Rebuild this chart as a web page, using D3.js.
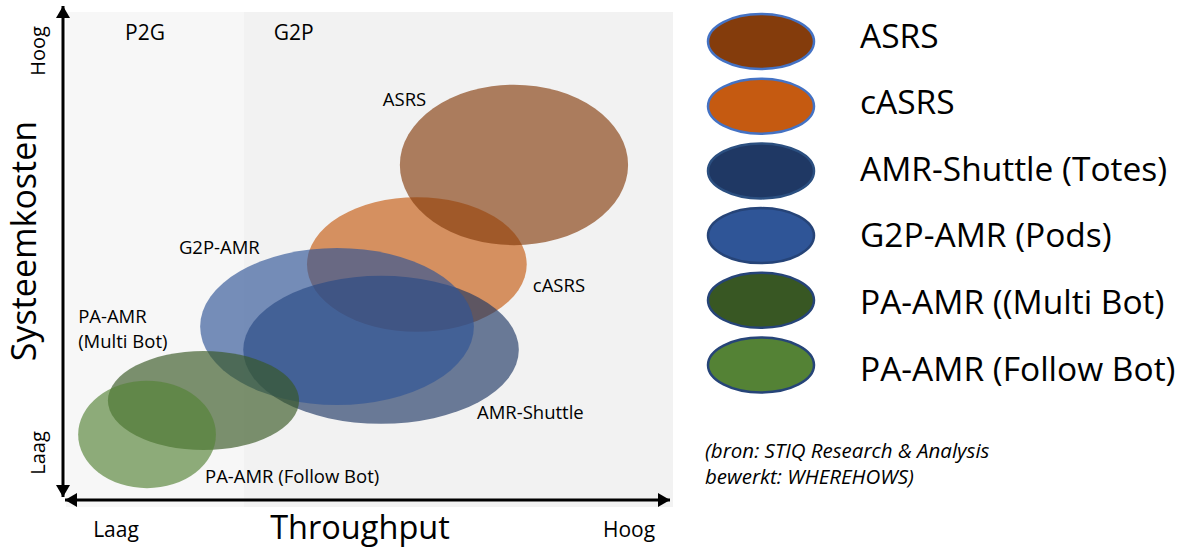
<!DOCTYPE html>
<html>
<head>
<meta charset="utf-8">
<script src="https://cdn.jsdelivr.net/npm/d3@7"></script>
<style>
  html, body { margin: 0; padding: 0; background: #ffffff; }
  svg { display: block; font-family: "Open Sans", "Noto Sans", sans-serif; }
</style>
</head>
<body>
<svg id="chart" width="1192" height="550"></svg>
<script>
// Systems, in legend order
const systems = ["ASRS", "cASRS", "AMR-Shuttle (Totes)", "G2P-AMR (Pods)", "PA-AMR ((Multi Bot)", "PA-AMR (Follow Bot)"];
// Throughput range per system (0 = laag, 100 = hoog)
const throughputLow  = [55.0, 39.7, 29.2, 22.1,  6.9,  2.0];
const throughputHigh = [92.6, 75.9, 74.6, 67.2, 38.4, 24.7];
// System cost range per system (0 = laag, 100 = hoog)
const costLow  = [52.9, 35.4, 16.8, 20.6, 11.5,  3.8];
const costHigh = [85.3, 62.6, 46.7, 52.3, 31.5, 25.5];
// Painting order of the bubbles (later = on top)
const drawOrder = [1, 0, 2, 3, 4, 5];

// Annotations inside the plot
const annotationText = [["ASRS"], ["cASRS"], ["AMR-Shuttle"], ["G2P-AMR"], ["PA-AMR", "(Multi Bot)"], ["PA-AMR (Follow Bot)"]];
const annotationThroughput = [52.2, 76.9, 67.7, 18.6, 2.0, 22.9];
const annotationCost = [81.0, 43.4, 17.8, 51.1, 37.2, 4.8];

// Process zones along the throughput axis
const zoneNames = ["P2G", "G2P"];
const zoneStart = [0, 29.3];
const zoneEnd = [29.3, 100];

const axisEnds = ["Laag", "Hoog"];
const sourceLines = ["(bron: STIQ Research & Analysis", "bewerkt: WHEREHOWS)"];

const fillColors = ["#843C0C", "#C55A11", "#1F3864", "#2F5597", "#385723", "#548235"];
const legendStroke = ["#4472C4", "#4472C4", "#2B4F80", "#264478", "#264478", "#264478"];
const zoneColors = ["#f7f7f7", "#f2f2f2"];

const svg = d3.select("#chart");

const x = d3.scaleLinear().domain([0, 100]).range([66, 673]);
const y = d3.scaleLinear().domain([0, 100]).range([507, 12]);
const color = d3.scaleOrdinal().domain(systems).range(fillColors);

// zone panels
svg.append("g").selectAll("rect")
  .data(zoneNames)
  .join("rect")
  .attr("x", (d, i) => x(zoneStart[i]))
  .attr("width", (d, i) => x(zoneEnd[i]) - x(zoneStart[i]))
  .attr("y", y(100))
  .attr("height", y(0) - y(100))
  .attr("fill", (d, i) => zoneColors[i]);

svg.append("g").selectAll("text")
  .data(zoneNames)
  .join("text")
  .attr("x", (d, i) => x(zoneStart[i]) + (i === 0 ? 59 : 30))
  .attr("y", y(94.3))
  .attr("font-size", 21)
  .attr("fill", "#000")
  .text(d => d);

// bubbles
const bubbles = systems.map((name, i) => ({
  name,
  cx: x((throughputLow[i] + throughputHigh[i]) / 2),
  cy: y((costLow[i] + costHigh[i]) / 2),
  rx: (x(throughputHigh[i]) - x(throughputLow[i])) / 2,
  ry: (y(costLow[i]) - y(costHigh[i])) / 2
}));

svg.append("g").selectAll("ellipse")
  .data(drawOrder.map(i => bubbles[i]))
  .join("ellipse")
  .attr("cx", d => d.cx)
  .attr("cy", d => d.cy)
  .attr("rx", d => d.rx)
  .attr("ry", d => d.ry)
  .attr("fill", d => color(d.name))
  .attr("fill-opacity", 0.65);

// annotations
const ann = svg.append("g").selectAll("text")
  .data(annotationText)
  .join("text")
  .attr("x", (d, i) => x(annotationThroughput[i]))
  .attr("y", (d, i) => y(annotationCost[i]))
  .attr("font-size", 18.5)
  .attr("fill", "#000");
ann.selectAll("tspan")
  .data(d => d)
  .join("tspan")
  .attr("x", function () { return d3.select(this.parentNode).attr("x"); })
  .attr("dy", (d, j) => j === 0 ? 0 : 25)
  .text(d => d);

// axes with arrowheads on both ends
const defs = svg.append("defs");
defs.append("marker")
  .attr("id", "arrow")
  .attr("viewBox", "0 0 12 14")
  .attr("refX", 12).attr("refY", 7)
  .attr("markerWidth", 12).attr("markerHeight", 14)
  .attr("markerUnits", "userSpaceOnUse")
  .attr("orient", "auto-start-reverse")
  .append("path")
  .attr("d", "M0,0 L12,7 L0,14 Z")
  .attr("fill", "#000");

const axisX0 = x(0) - 3;
const axisY0 = y(0) - 7;
svg.append("line")
  .attr("x1", axisX0).attr("y1", y(100) - 6)
  .attr("x2", axisX0).attr("y2", y(0) - 10)
  .attr("stroke", "#000").attr("stroke-width", 3)
  .attr("marker-start", "url(#arrow)").attr("marker-end", "url(#arrow)");
svg.append("line")
  .attr("x1", x(0) - 1).attr("y1", axisY0)
  .attr("x2", x(100) - 3).attr("y2", axisY0)
  .attr("stroke", "#000").attr("stroke-width", 3)
  .attr("marker-start", "url(#arrow)").attr("marker-end", "url(#arrow)");

// axis titles
svg.append("text")
  .attr("x", 360).attr("y", 539)
  .attr("text-anchor", "middle")
  .attr("font-size", 32.5)
  .text("Throughput");
svg.append("text")
  .attr("transform", "translate(36,241) rotate(-90)")
  .attr("text-anchor", "middle")
  .attr("font-size", 34)
  .text("Systeemkosten");

// low/high ends
svg.append("g").selectAll("text")
  .data(axisEnds)
  .join("text")
  .attr("x", (d, i) => i === 0 ? 116 : 629)
  .attr("y", 537)
  .attr("text-anchor", "middle")
  .attr("font-size", 21)
  .text(d => d);
svg.append("g").selectAll("text")
  .data(axisEnds)
  .join("text")
  .attr("transform", (d, i) => `translate(45,${i === 0 ? 453 : 51}) rotate(-90)`)
  .attr("text-anchor", "middle")
  .attr("font-size", 20)
  .text(d => d);

// legend: swatches and labels sit on slightly different row pitches
const swatchY = d3.scaleLinear().domain([0, systems.length - 1]).range([41.5, 365]);
const labelY = d3.scaleLinear().domain([0, systems.length - 1]).range([47.5, 380.5]);
const legend = svg.append("g");
legend.selectAll("ellipse")
  .data(systems)
  .join("ellipse")
  .attr("cx", 761)
  .attr("cy", (d, i) => swatchY(i))
  .attr("rx", 53).attr("ry", 27.5)
  .attr("fill", d => color(d))
  .attr("stroke", (d, i) => legendStroke[i])
  .attr("stroke-width", 2.5);
legend.selectAll("text")
  .data(systems)
  .join("text")
  .attr("x", 860)
  .attr("y", (d, i) => labelY(i))
  .attr("font-size", 33.5)
  .text(d => d);

// source note
svg.append("g").selectAll("text")
  .data(sourceLines)
  .join("text")
  .attr("x", 705)
  .attr("y", (d, i) => 458 + i * 26)
  .attr("font-size", 20.5)
  .attr("font-style", "italic")
  .text(d => d);
</script>
</body>
</html>
